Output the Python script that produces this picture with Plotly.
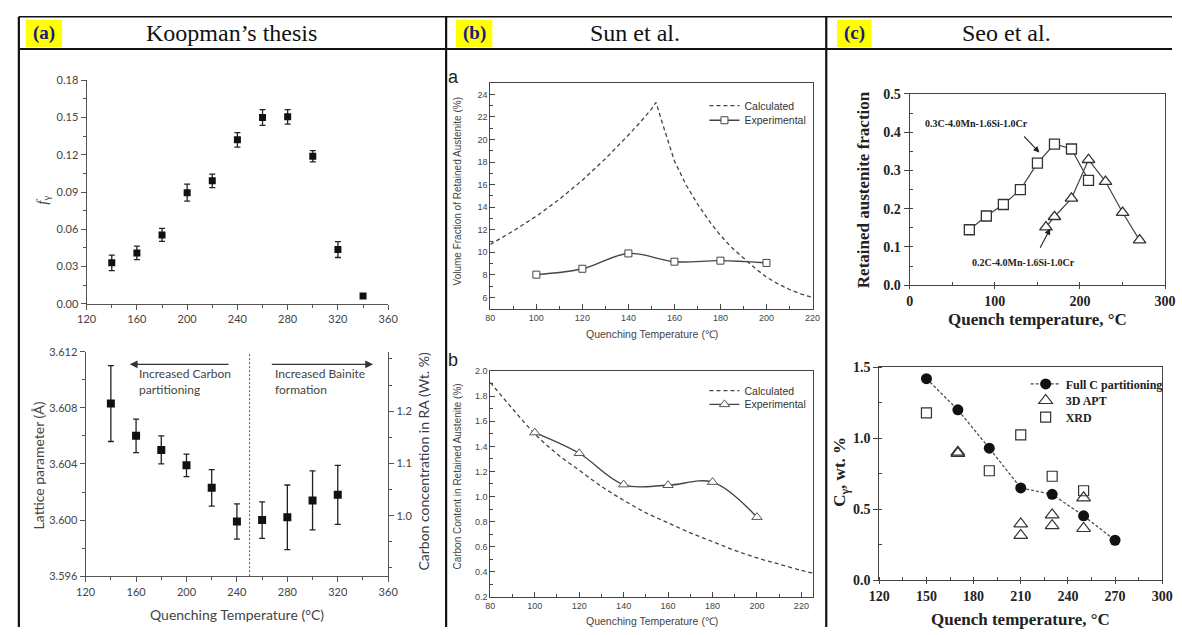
import plotly.graph_objects as go

W, H = 1182, 635

# ---------------- data ----------------
# (a) top : retained austenite fraction f_gamma vs quenching temperature
a1_temp = [140, 160, 180, 200, 220, 240, 260, 280, 300, 320, 340]
a1_fg = [0.033, 0.041, 0.0555, 0.0895, 0.099, 0.132, 0.150, 0.1505, 0.1188, 0.0437, 0.0063]
a1_err = [0.0062, 0.0055, 0.0052, 0.0068, 0.0054, 0.0058, 0.0063, 0.0058, 0.0045, 0.0064, 0.0]

# (a) bottom : lattice parameter
a2_temp = [140, 160, 180, 200, 220, 240, 260, 280, 300, 320]
a2_lat = [3.6083, 3.6060, 3.6050, 3.6039, 3.6023, 3.5999, 3.6000, 3.6002, 3.6014, 3.6018]
a2_err = [0.0027, 0.0012, 0.0010, 0.0008, 0.0013, 0.00125, 0.0013, 0.0023, 0.0021, 0.0021]
a2_divider_temp = 250

# (b) top : volume fraction of retained austenite (%)
b1_calc_t = [80, 90, 100, 110, 120, 130, 140, 145, 150, 152, 155, 160, 165, 170, 175,
             180, 185, 190, 195, 200, 205, 210, 215, 220]
b1_calc_v = [10.7, 11.9, 13.2, 14.7, 16.4, 18.3, 20.4, 21.5, 22.7, 23.3, 21.3, 18.1, 16.0,
             14.3, 12.8, 11.5, 10.4, 9.5, 8.6, 7.8, 7.2, 6.7, 6.3, 6.0]
b1_exp_t = [100, 120, 140, 160, 180, 200]
b1_exp_v = [8.02, 8.54, 9.90, 9.17, 9.26, 9.06]

# (b) bottom : carbon content in retained austenite (%)
b2_calc_t = [80, 90, 100, 110, 120, 130, 140, 150, 160, 170, 180, 190, 200, 210, 220, 225]
b2_calc_c = [1.91, 1.70, 1.50, 1.34, 1.21, 1.08, 0.97, 0.87, 0.79, 0.71, 0.64, 0.57,
             0.51, 0.46, 0.41, 0.39]
b2_exp_t = [100, 120, 140, 160, 180, 200]
b2_exp_c = [1.51, 1.345, 1.095, 1.09, 1.115, 0.835]

# (c) top : retained austenite fraction
c1_sq_t = [70, 90, 110, 130, 150, 170, 190, 210]
c1_sq_f = [0.145, 0.181, 0.211, 0.250, 0.319, 0.369, 0.356, 0.274]
c1_tri_t = [160, 170, 190, 210, 230, 250, 270]
c1_tri_f = [0.152, 0.179, 0.227, 0.328, 0.271, 0.190, 0.118]

# (c) bottom : C_gamma wt.%
c2_full_t = [150, 170, 190, 210, 230, 250, 270]
c2_full_c = [1.42, 1.20, 0.93, 0.65, 0.605, 0.453, 0.281]
c2_apt_t = [170, 170, 210, 210, 230, 230, 250, 250]
c2_apt_c = [0.902, 0.893, 0.396, 0.315, 0.46, 0.384, 0.58, 0.364]
c2_xrd_t = [150, 190, 210, 230, 250]
c2_xrd_c = [1.178, 0.771, 1.024, 0.732, 0.63]

# ---------------- helpers ----------------
def px(x):
    return x / W


def py(y):
    return 1 - y / H


LATO = "Lato"
ARIAL = "Liberation Sans"
TIMES = "Liberation Serif"


def xax(left, right, rng, dtick, mdtick, anchor, font, ticks, mticks, mirror=False,
        linecolor="#555", tick0=None, ticklen=5):
    d = dict(domain=[px(left), px(right)], range=rng, dtick=dtick, anchor=anchor,
             ticks=ticks, ticklen=ticklen, tickwidth=1.1, tickcolor=linecolor,
             minor=dict(dtick=mdtick, ticks=mticks, ticklen=3, tickcolor=linecolor, showgrid=False),
             showline=True, linecolor=linecolor, linewidth=1.2, mirror=mirror,
             showgrid=False, zeroline=False, tickfont=font, fixedrange=True)
    if tick0 is not None:
        d["tick0"] = tick0
        d["minor"]["tick0"] = tick0
    return d


def yax(top, bottom, rng, dtick, mdtick, anchor, font, ticks, mticks, fmt, mirror=False,
        linecolor="#555", tick0=None):
    d = dict(domain=[py(bottom), py(top)], range=rng, dtick=dtick, anchor=anchor,
             ticks=ticks, ticklen=5, tickwidth=1.1, tickcolor=linecolor, tickformat=fmt,
             minor=dict(dtick=mdtick, ticks=mticks, ticklen=3, tickcolor=linecolor, showgrid=False),
             showline=True, linecolor=linecolor, linewidth=1.2, mirror=mirror,
             showgrid=False, zeroline=False, tickfont=font, fixedrange=True)
    if tick0 is not None:
        d["tick0"] = tick0
        d["minor"]["tick0"] = tick0
    return d


fa = dict(family=LATO, size=11, color="#444")
fb = dict(family=ARIAL, size=9, color="#444")
fc = dict(family=TIMES, size=14, color="#222", weight="bold")

fig = go.Figure()

# ---------------- traces ----------------
err_style = dict(type="data", visible=True, color="#222", thickness=1.3, width=3)

fig.add_trace(go.Scatter(x=a1_temp, y=a1_fg, mode="markers", xaxis="x", yaxis="y",
                         marker=dict(symbol="square", size=7, color="#111"),
                         error_y=dict(array=a1_err, **err_style), showlegend=False))

fig.add_trace(go.Scatter(x=a2_temp, y=a2_lat, mode="markers", xaxis="x2", yaxis="y2",
                         marker=dict(symbol="square", size=8, color="#111"),
                         error_y=dict(array=a2_err, **err_style), showlegend=False))
fig.add_trace(go.Scatter(x=[None], y=[None], xaxis="x2", yaxis="y3", showlegend=False,
                         hoverinfo="skip", mode="markers"))

# (b) top
fig.add_trace(go.Scatter(x=b1_calc_t, y=b1_calc_v, mode="lines", xaxis="x3", yaxis="y4",
                         name="Calculated", legend="legend",
                         line=dict(color="#444", width=1.3, dash="4px,3px")))
fig.add_trace(go.Scatter(x=b1_exp_t, y=b1_exp_v, mode="lines+markers", xaxis="x3", yaxis="y4",
                         name="Experimental", legend="legend2",
                         line=dict(color="#444", width=1.4, shape="spline", smoothing=1.0),
                         marker=dict(symbol="square", size=7, color="white",
                                     line=dict(color="#444", width=1))))
# (b) bottom
fig.add_trace(go.Scatter(x=b2_calc_t, y=b2_calc_c, mode="lines", xaxis="x4", yaxis="y5",
                         name="Calculated", legend="legend3",
                         line=dict(color="#444", width=1.3, dash="4px,3px", shape="spline")))
fig.add_trace(go.Scatter(x=b2_exp_t, y=b2_exp_c, mode="lines+markers", xaxis="x4", yaxis="y5",
                         name="Experimental", legend="legend4",
                         line=dict(color="#444", width=1.4, shape="spline", smoothing=1.0),
                         marker=dict(symbol="triangle-up", size=9, color="white",
                                     line=dict(color="#555", width=1))))
# (c) top
fig.add_trace(go.Scatter(x=c1_sq_t, y=c1_sq_f, mode="lines+markers", xaxis="x5", yaxis="y6",
                         showlegend=False, line=dict(color="#444", width=1.2),
                         marker=dict(symbol="square", size=10, color="white",
                                     line=dict(color="#333", width=1.3))))
fig.add_trace(go.Scatter(x=c1_tri_t, y=c1_tri_f, mode="lines+markers", xaxis="x5", yaxis="y6",
                         showlegend=False, line=dict(color="#444", width=1.2),
                         marker=dict(symbol="triangle-up", size=11, color="white",
                                     line=dict(color="#333", width=1.3))))
# (c) bottom
fig.add_trace(go.Scatter(x=c2_full_t, y=c2_full_c, mode="lines+markers", xaxis="x6", yaxis="y7",
                         name="<b>Full C partitioning</b>", legend="legend5",
                         line=dict(color="#444", width=1.2, dash="3px,2px"),
                         marker=dict(symbol="circle", size=11, color="#111")))
fig.add_trace(go.Scatter(x=c2_apt_t, y=c2_apt_c, mode="markers", xaxis="x6", yaxis="y7",
                         name="<b>3D APT</b>", legend="legend6",
                         marker=dict(symbol="triangle-up", size=12, color="rgba(255,255,255,0)",
                                     line=dict(color="#333", width=1.2))))
fig.add_trace(go.Scatter(x=c2_xrd_t, y=c2_xrd_c, mode="markers", xaxis="x6", yaxis="y7",
                         name="<b>XRD</b>", legend="legend7",
                         marker=dict(symbol="square", size=10, color="rgba(255,255,255,0)",
                                     line=dict(color="#333", width=1.2))))

# ---------------- axes ----------------
layout = dict(
    width=W, height=H, margin=dict(l=0, r=0, t=0, b=0), autosize=False,
    paper_bgcolor="white", plot_bgcolor="white",
    xaxis=xax(77, 384, [120, 360], 40, 20, "y", fa, "outside", "outside", tick0=120),
    yaxis=yax(75, 304, [0, 0.18], 0.03, 0.015, "x", fa, "outside", "outside", ".2f", tick0=0),
    xaxis2=xax(76, 384, [120, 360], 40, 20, "y2", fa, "outside", "outside", tick0=120),
    yaxis2=yax(353, 583, [3.596, 3.612], 0.004, 0.002, "x2", fa, "outside", "outside", ".3f",
               tick0=3.596),
    xaxis3=xax(488, 816, [80, 220], 20, 10, "y4", fb, "inside", "inside", mirror=True,
               linecolor="#444", tick0=80),
    yaxis4=yax(78, 309, [5, 25], 2, 1, "x3", fb, "inside", "inside", "d", mirror=True,
               linecolor="#444", tick0=0),
    xaxis4=xax(488, 816, [80, 225], 20, 10, "y5", fb, "inside", "inside", mirror=True,
               linecolor="#444", tick0=80),
    yaxis5=yax(373, 604, [0.2, 2.0001], 0.2, 0.1, "x4", fb, "inside", "inside", ".1f", mirror=True,
               linecolor="#444", tick0=0.2),
    xaxis5=xax(915, 1175, [0, 300], 100, 50, "y6", fc, "outside", "inside", mirror=True,
               linecolor="#444", tick0=0, ticklen=3),
    yaxis6=yax(89, 285, [0, 0.5], 0.1, 0.05, "x5", fc, "outside", "inside", ".1f", mirror=True,
               linecolor="#444", tick0=0),
    xaxis6=xax(884, 1172, [120, 300], 30, 15, "y7", fc, "outside", "inside", mirror=True,
               linecolor="#444", tick0=120, ticklen=3),
    yaxis7=yax(369, 587, [0, 1.5], 0.5, 0.25, "x6", fc, "outside", "inside", ".1f", mirror=True,
               linecolor="#444", tick0=0),
)
layout["yaxis3"] = dict(overlaying="y2", side="right", anchor="x2", range=[0.884, 1.314],
                        tickmode="array", tickvals=[1.0, 1.1, 1.2], ticktext=["1.0", "1.1", "1.2"],
                        ticks="outside", ticklen=5, tickcolor="#555",
                        minor=dict(tickmode="array", tickvals=[0.9, 0.95, 1.05, 1.15, 1.25, 1.3],
                                   ticks="outside", ticklen=3, tickcolor="#555"),
                        showline=True, linecolor="#555", linewidth=1.2, showgrid=False,
                        zeroline=False, tickfont=fa, fixedrange=True)

# legends (one per entry for exact placement)
def leg(x, y, font):
    return dict(x=px(x), y=py(y), xanchor="left", yanchor="middle", bgcolor="rgba(0,0,0,0)",
                font=font, itemwidth=30, borderwidth=0)

fbl = dict(family=ARIAL, size=10.5, color="#333")
fcl = dict(family=TIMES, size=12, color="#222")
layout["legend"] = leg(706, 101, fbl)
layout["legend2"] = leg(706, 116, fbl)
layout["legend3"] = leg(706, 393, fbl)
layout["legend4"] = leg(706, 407, fbl)
layout["legend5"] = leg(1033, 386, fcl)
layout["legend6"] = leg(1033, 403, fcl)
layout["legend7"] = leg(1033, 420, fcl)

fig.update_layout(**layout)

# ---------------- annotations ----------------
ann = []


def text(x, y, s, font, angle=0, xanchor="center", yanchor="middle"):
    ann.append(dict(x=px(x), y=py(y), xref="paper", yref="paper", text=s, showarrow=False,
                    font=font, textangle=angle, xanchor=xanchor, yanchor=yanchor))


# header
hdr_font = dict(family=TIMES, size=24, color="#111")
lab_font = dict(family=TIMES, size=19, color="#1a1a80", weight="bold")
text(224, 27, "Koopman’s thesis", hdr_font)
text(635, 27, "Sun et al.", hdr_font)
text(1013, 27, "Seo et al.", hdr_font)
text(33.5, 27, "(a)", lab_font)
text(471.5, 27, "(b)", lab_font)
text(858.5, 27, "(c)", lab_font)

# panel (a) titles
ta = dict(family=LATO, size=14, color="#444")
text(33, 198, "<i>f</i><sub>γ</sub>", dict(family=TIMES, size=15, color="#444"), angle=-90)
text(28, 470, "Lattice parameter (Å)", ta, angle=-90)
text(419, 465, "Carbon concentration in RA (Wt. %)", dict(family=LATO, size=14, color="#3a3a4a"),
     angle=-90)
text(230, 622, "Quenching Temperature (°C)", ta)

# panel (b) titles
tb = dict(family=ARIAL, size=10.5, color="#444")
text(450, 72, "a", dict(family=ARIAL, size=18, color="#222"))
text(450, 362, "b", dict(family=ARIAL, size=18, color="#222"))
text(455, 189, "Volume Fraction of Retained Austenite (%)", dict(family=ARIAL, size=10, color="#444"),
     angle=-90)
text(455, 481, "Carbon Content in Retained Austenite (%)", dict(family=ARIAL, size=10, color="#444"),
     angle=-90)
text(653, 335, "Quenching Temperature (℃)", tb)
text(653, 629, "Quenching Temperature (℃)", tb)

# panel (c) titles
tc = dict(family=TIMES, size=17, color="#222", weight="bold")
text(868, 187, "Retained austenite fraction", tc, angle=-90)
text(1045, 320, "Quench temperature, °C", tc)
text(845, 476, "C<sub>γ</sub>, wt. %", tc, angle=-90)
text(1028, 627, "Quench temperature, °C", tc)

# (a) bottom arrows and notes
afont = dict(family=LATO, size=12, color="#444")
ann.append(dict(x=155, y=3.6111, ax=234.5, ay=3.6111, xref="x2", yref="y2", axref="x2", ayref="y2",
                showarrow=True, arrowhead=2, arrowsize=1.2, arrowwidth=1.3, arrowcolor="#333", text=""))
ann.append(dict(x=348, y=3.6111, ax=266.5, ay=3.6111, xref="x2", yref="y2", axref="x2", ayref="y2",
                showarrow=True, arrowhead=2, arrowsize=1.2, arrowwidth=1.3, arrowcolor="#333", text=""))
ann.append(dict(x=161, y=3.6099, xref="x2", yref="y2", text="Increased Carbon<br>partitioning",
                showarrow=False, xanchor="left", yanchor="middle", align="left", font=afont))
ann.append(dict(x=268.5, y=3.6099, xref="x2", yref="y2", text="Increased Bainite<br>formation",
                showarrow=False, xanchor="left", yanchor="middle", align="left", font=afont))

# (c) top arrows and labels
cfont = dict(family=TIMES, size=10, color="#222", weight="bold")
ann.append(dict(x=152.3, y=0.347, ax=132.7, ay=0.393, xref="x5", yref="y6", axref="x5", ayref="y6",
                showarrow=True, arrowhead=2, arrowsize=1.1, arrowwidth=1.1, arrowcolor="#222", text=""))
ann.append(dict(x=165, y=0.148, ax=152.3, ay=0.094, xref="x5", yref="y6", axref="x5", ayref="y6",
                showarrow=True, arrowhead=2, arrowsize=1.1, arrowwidth=1.1, arrowcolor="#222", text=""))
ann.append(dict(x=78.5, y=0.423, xref="x5", yref="y6", text="0.3C-4.0Mn-1.6Si-1.0Cr",
                showarrow=False, font=cfont))
ann.append(dict(x=133.8, y=0.059, xref="x5", yref="y6", text="0.2C-4.0Mn-1.6Si-1.0Cr",
                showarrow=False, font=cfont))

fig.update_layout(annotations=ann)

# ---------------- shapes (table frame, highlights, divider) ----------------
shapes = []
for x0, x1 in [(15, 52), (453, 490), (841, 876)]:
    shapes.append(dict(type="rect", xref="paper", yref="paper", x0=px(x0), x1=px(x1),
                       y0=py(41), y1=py(13), fillcolor="#ffff00", line=dict(width=0), layer="below"))


def pline(x0, y0, x1, y1, w):
    shapes.append(dict(type="line", xref="paper", yref="paper", x0=px(x0), y0=py(y0),
                       x1=px(x1), y1=py(y1), line=dict(color="#111", width=w)))


pline(8, 10, 8, 635, 2.2)
pline(8, 10, 1182, 10, 1.3)
pline(8, 43, 1182, 43, 2.2)
pline(443, 10, 443, 635, 2.2)
pline(830, 10, 830, 635, 2.2)

shapes.append(dict(type="line", xref="x2", yref="y2", x0=a2_divider_temp, x1=a2_divider_temp,
                   y0=3.596, y1=3.612, line=dict(color="#666", width=1.2, dash="2px,2px")))
fig.update_layout(shapes=shapes)

fig.write_html("out.html")
